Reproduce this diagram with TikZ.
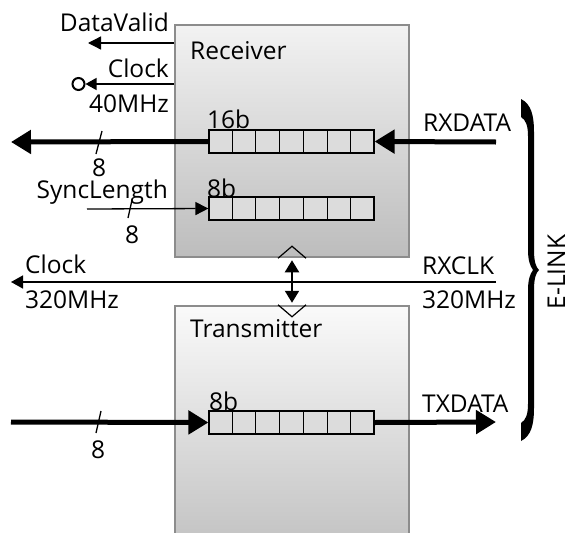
\documentclass[tikz,border=0pt]{standalone}
\usepackage{fontspec}
\setmainfont{Open Sans}
\usetikzlibrary{arrows.meta,calc}
\definecolor{boxborder}{HTML}{8C8C8C}
\definecolor{cellfill}{HTML}{DCDCDC}
\tikzset{
  lbl/.style={anchor=base west,inner sep=0pt,font=\fontsize{24.5}{24.5}\selectfont},
  lblr/.style={lbl,anchor=base east},
  boxrect/.style={draw=boxborder,line width=2.5pt,inner sep=0pt},
  regbox/.style={draw=black,fill=cellfill,line width=1.2pt,minimum width=165pt,minimum height=23pt,inner sep=0pt},
  bigarrow/.style={line width=5pt,-{Triangle[length=20pt,width=23pt]}},
  thinarrow/.style={line width=1.3pt,-{Triangle[length=13pt,width=13pt]}},
  busmark/.style={line width=1.3pt},
}
\begin{document}
\begin{tikzpicture}[x=1pt,y=-1pt]
\useasboundingbox (0,0) rectangle (568,533);
% boxes
\node[boxrect,top color=white!95!black,bottom color=black!26,minimum width=234pt,minimum height=232pt] (rx) at (292,141) {};
\node[boxrect,top color=white!98!black,bottom color=black!25,minimum width=234pt,minimum height=254pt] (tx) at (292,433) {};
\node[lbl] (rxl) at (190,59) {Receiver};
\node[lbl] (txl) at (190,337) {Transmitter};
% registers
\node[regbox] (reg1) at (291.5,141.5) {};
\node[regbox] (reg2) at (291.5,208.5) {};
\node[regbox] (reg3) at (291.5,422.5) {};
\foreach \r in {reg1,reg2,reg3}{
  \foreach \i in {1,...,6}{
    \draw[line width=1.2pt] ($(\r.north west)!\i/7!(\r.north east)$) -- ($(\r.south west)!\i/7!(\r.south east)$);
  }
}
\node[lbl] (l16) at (207,128) {16b};
\node[lbl] (l8a) at (207,197) {8b};
\node[lbl] (l8b) at (209,410) {8b};
% left side labels
\node[lblr] (dvl) at (169,31) {DataValid};
\node[lblr] (ckl) at (169,77) {Clock};
\node[lblr] (f40) at (169,112) {40MHz};
\node[lbl] (n8a) at (92,176) {8};
\node[lblr] (syl) at (168,198) {SyncLength};
\node[lbl] (n8b) at (125,243) {8};
\node[lbl] (ck3) at (25,273) {Clock};
\node[lbl] (f320) at (25,308) {320MHz};
\node[lbl] (n8c) at (91,458) {8};
% right side labels
\node[lbl] (rxd) at (423,131) {RXDATA};
\node[lbl] (rxc) at (422,274) {RXCLK};
\node[lbl] (f320r) at (422,308) {320MHz};
\node[lbl] (txd) at (422,412) {TXDATA};
\node[inner sep=0pt,anchor=base,rotate=90,font=\fontsize{24.5}{24.5}\selectfont] (elink) at (565,272) {E-LINK};
% coordinates
\coordinate (dv) at (88,43);
\coordinate (ck) at (89,84);
\coordinate (rxout) at (11,142);
\coordinate (rxin) at (496,142);
\coordinate (syin) at (87,209);
\coordinate (txin) at (11,422);
\coordinate (txout) at (496,422);
\coordinate (clkin) at (496,282);
\coordinate (clkout) at (11,282);
% circle on clock
\node[draw,circle,line width=2pt,minimum size=12pt,inner sep=0pt] (cc) at (78.5,84) {};
% thin arrows
\draw[thinarrow] (rx.west |- dv) -- (dv);
\draw[line width=1.3pt,-{Triangle[length=11pt,width=12pt]}] (rx.west |- ck) -- (cc.east);
\draw[thinarrow] (syin) -- (reg2.west);
\draw[line width=1.5pt,-{Triangle[length=12pt,width=13pt]}] (clkin) -- (clkout);
% thick arrows
\draw[bigarrow] (reg1.west) -- (rxout);
\draw[bigarrow] (rxin) -- (reg1.east);
\draw[bigarrow] (txin) -- (reg3.west);
\draw[bigarrow] (reg3.east) -- (txout);
% bus marks
\draw[busmark] (102,131) -- (96,154);
\draw[busmark] (132,200) -- (128,218);
\draw[busmark] (101,411) -- (96,433);
% chevrons and double arrow
\draw[line width=1.2pt] ([xshift=-14pt]rx.south) -- ([yshift=12pt]rx.south) -- ([xshift=14pt]rx.south);
\draw[line width=1.2pt] ([xshift=-14pt]tx.north) -- ([yshift=-12pt]tx.north) -- ([xshift=14pt]tx.north);
\draw[line width=2pt,{Triangle[length=12pt,width=14pt]}-{Triangle[length=12pt,width=14pt]},shorten <=2pt,shorten >=2pt] (rx.south) -- (tx.north);
% brace
\fill (521,99) .. controls (531,104) and (534,115) .. (534,132) -- (534,250)
  .. controls (534,262) and (536,267) .. (539,270)
  .. controls (536,273) and (534,278) .. (534,290) -- (534,408)
  .. controls (534,425) and (531,436) .. (521,441) -- (521,423)
  .. controls (526,420) and (528,414) .. (528,404) -- (528,290)
  .. controls (528,280) and (530,274) .. (533,270)
  .. controls (530,266) and (528,260) .. (528,250) -- (528,136)
  .. controls (528,126) and (526,120) .. (521,117) -- cycle;
\end{tikzpicture}
\end{document}
